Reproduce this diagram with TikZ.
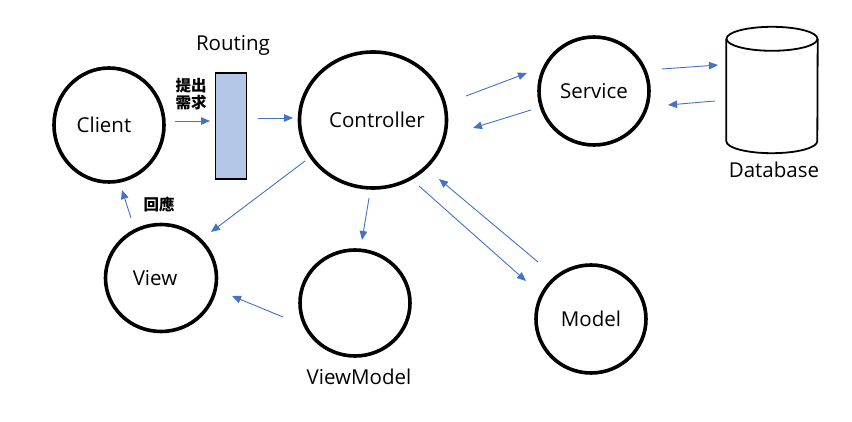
\documentclass[tikz,border=0pt]{standalone}
\usepackage{fontspec}
\setmainfont{Open Sans}
\newfontfamily\cjk{Noto Sans CJK TC}
\usepackage{tikz}
\usetikzlibrary{arrows,arrows.meta,calc,positioning,shapes.geometric}

\definecolor{flowblue}{HTML}{4472C4}
\definecolor{routefill}{HTML}{B4C7E7}

\begin{document}
\begin{tikzpicture}[x=1pt,y=-1pt,
comp/.style={ellipse,draw=black,line width=3.6pt,inner sep=0pt,minimum width=110pt,minimum height=108pt,font=\fontsize{20.5}{24}\selectfont},
flow/.style={draw=flowblue,line width=0.9pt,-{Triangle[length=9pt,width=7.5pt]}},
caption/.style={font=\fontsize{20.5}{24}\selectfont},
zh/.style={font=\cjk\bfseries\fontsize{15.5}{18}\selectfont,align=left,inner sep=0pt},]
\useasboundingbox (0,0) rectangle (852,422);

\node[comp,minimum width=110pt,minimum height=114pt] (client) at (109,125) {Client\hspace*{10pt}};
\node[comp,minimum width=147pt,minimum height=136pt] (ctrl) at (373,120) {\hspace*{8pt}Controller};
\node[comp] (service) at (594,91) {Service};
\node[comp,minimum width=111pt,minimum height=107pt] (view) at (161,278) {View\hspace*{12pt}};
\node[comp,minimum height=106pt] (vm) at (355,303) {};
\node[comp] (model) at (591,319) {Model};
\node[caption] (vmlabel) at (359,377) {ViewModel};

\node[draw=black,fill=routefill,line width=1.5pt,minimum width=31pt,minimum height=106pt,inner sep=0pt] (router) at (231,126) {};
\node[caption] (routelabel) at (233,45) {Routing};

% database cylinder
\node[minimum width=91pt,minimum height=126pt,inner sep=0pt] (db) at (772,90) {};
\draw[line width=1.8pt] ($(db.north)+(0,12)$) ellipse [x radius=45.5pt,y radius=12pt];
\draw[line width=1.8pt] ($(db.north west)+(0,12)$) -- ($(db.south west)+(0,-12)$)
  arc [start angle=180,end angle=360,x radius=45.5pt,y radius=12pt] -- ($(db.north east)+(0,12)$);
\node[caption] (dblabel) at (774,170) {Database};

\node[zh] (ask) at (191,94) {提出\\[-1pt]需求};
\node[zh] (reply) at (159,205) {回應};

% arrow ends
\coordinate (a1) at (175,121); \coordinate (b1) at (210,121);
\coordinate (a2) at (258,118); \coordinate (b2) at (293,118);
\coordinate (a3) at (466,96);  \coordinate (b3) at (527,73);
\coordinate (a4) at (531,110); \coordinate (b4) at (473,128);
\coordinate (a5) at (662,69);  \coordinate (b5) at (718,65);
\coordinate (a6) at (715,101); \coordinate (b6) at (668,105);
\coordinate (a7) at (419,186); \coordinate (b7) at (526,281);
\coordinate (a8) at (538,262); \coordinate (b8) at (439,179);
\coordinate (a9) at (305,161); \coordinate (b9) at (211,232);
\coordinate (a10) at (369,198); \coordinate (b10) at (362,240);
\coordinate (a11) at (283,317); \coordinate (b11) at (232,296);
\coordinate (a12) at (131,218); \coordinate (b12) at (122,190);

\foreach \i in {1,...,12}
  \draw[flow] (a\i) -- (b\i);

\end{tikzpicture}
\end{document}
